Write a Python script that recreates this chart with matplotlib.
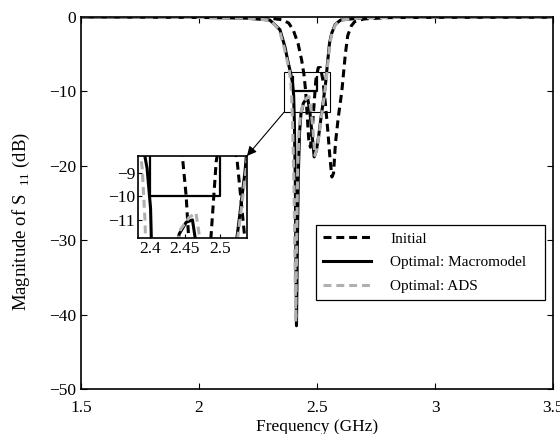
import matplotlib
matplotlib.use("Agg")
import matplotlib.pyplot as plt
from matplotlib.patches import Rectangle, ConnectionPatch

plt.rcParams['font.family'] = ['Liberation Serif', 'DejaVu Serif']
plt.rcParams['mathtext.fontset'] = 'custom'
plt.rcParams['mathtext.rm'] = 'Liberation Serif'

# ---- data ----
f_init = [1.5, 2.0, 2.2, 2.3, 2.35, 2.38, 2.40, 2.42, 2.435, 2.445, 2.452, 2.458, 2.465,
          2.472, 2.48, 2.488, 2.495, 2.505, 2.515, 2.525, 2.535, 2.545, 2.555, 2.563, 2.57,
          2.578, 2.59, 2.605, 2.62, 2.63, 2.645, 2.66, 2.7, 2.8, 3.0, 3.5]
s_init = [0, -0.02, -0.05, -0.15, -0.35, -0.8, -1.8, -3.6, -5.8, -7.8, -10.0, -13.0, -16.5,
          -17.5, -15.0, -11.5, -8.5, -6.8, -6.8, -8.5, -11.5, -15.0, -19.0, -21.5, -21.0,
          -17.0, -13.5, -10.0, -5.0, -2.5, -1.2, -0.6, -0.25, -0.08, -0.02, 0]

f_opt = [1.5, 2.0, 2.2, 2.3, 2.343, 2.364, 2.377, 2.388, 2.396, 2.401, 2.404, 2.408, 2.413,
         2.417, 2.421, 2.426, 2.432, 2.442, 2.452, 2.461, 2.47, 2.479, 2.488, 2.497, 2.507,
         2.517, 2.527, 2.536, 2.545, 2.553, 2.562, 2.577, 2.6, 2.7, 3.0, 3.5]
s_opt = [0, -0.05, -0.15, -0.4, -1.7, -4.0, -6.0, -7.5, -8.8, -10.5, -14.0, -22.0, -41.5,
         -30.0, -21.0, -15.5, -13.0, -11.6, -11.1, -11.0, -12.8, -15.8, -18.8, -18.0, -16.0,
         -13.5, -11.2, -9.0, -6.0, -3.5, -2.2, -1.0, -0.4, -0.08, -0.01, 0]

f_ads = [1.5, 2.0, 2.2, 2.3, 2.34, 2.36, 2.373, 2.383, 2.389, 2.393, 2.397, 2.402, 2.41,
         2.414, 2.418, 2.424, 2.432, 2.444, 2.456, 2.466, 2.475, 2.484, 2.491, 2.499, 2.509,
         2.519, 2.529, 2.538, 2.547, 2.555, 2.564, 2.579, 2.6, 2.7, 3.0, 3.5]
s_ads = [0, -0.05, -0.15, -0.4, -1.7, -4.0, -5.8, -7.3, -8.8, -11.0, -15.0, -22.0, -41.0,
         -30.0, -20.5, -15.0, -12.8, -11.4, -10.9, -10.7, -12.5, -15.5, -18.6, -17.8, -15.8,
         -13.3, -11.0, -8.8, -5.8, -3.4, -2.1, -1.0, -0.4, -0.08, -0.01, 0]

spec_f = [2.4, 2.4, 2.5, 2.5]
spec_s = [-8.0, -10.0, -10.0, -8.0]

xticks = [1.5, 2, 2.5, 3, 3.5]
yticks = [0, -10, -20, -30, -40, -50]
inset_xticks = [2.4, 2.45, 2.5]
inset_yticks = [-9, -10, -11]

fig = plt.figure(figsize=(5.6, 4.34), dpi=100)
ax = fig.add_axes([0.1446, 0.1037, 0.843, 0.857])

dash = (0, (2.6, 1.6))
def draw(a):
    a.plot(f_init, s_init, color='black', lw=2.2, linestyle=dash, label='Initial')
    a.plot(f_opt, s_opt, color='black', lw=2.2, linestyle='-', label='Optimal: Macromodel   ')
    a.plot(f_ads, s_ads, color='#b0b0b0', lw=2.2, linestyle=dash, label='Optimal: ADS')
    a.plot(spec_f, spec_s, color='black', lw=1.6)

draw(ax)
ax.set_xlim(1.5, 3.5)
ax.set_ylim(-50, 0)
ax.set_xticks(xticks)
ax.set_xticklabels(['1.5', '2', '2.5', '3', '3.5'])
ax.set_yticks(yticks)
ax.set_yticklabels(['0', '\u221210', '\u221220', '\u221230', '\u221240', '\u221250'])
ax.tick_params(direction='in', top=True, right=True, labelsize=12.5, length=4, width=0.8)
ax.tick_params(axis='x', pad=8)
for sp in ax.spines.values():
    sp.set_linewidth(1.2)
ax.set_xlabel('Frequency (GHz)', fontsize=12.5, labelpad=2)
ax.set_ylabel('Magnitude of S$_{\\ \\ 11}$ (dB)', fontsize=13.5)
ax.yaxis.set_label_coords(-0.104, 0.45)

leg = ax.legend(loc='lower right', bbox_to_anchor=(0.983, 0.239), borderaxespad=0,
                fontsize=11, frameon=True, fancybox=False, edgecolor='black', framealpha=1,
                handlelength=3.1, handletextpad=1.3, borderpad=0.45, labelspacing=0.66)
leg.get_frame().set_linewidth(0.9)

# zoom box on main axes
ax.add_patch(Rectangle((2.36, -12.8), 0.195, 5.4, fill=False, edgecolor='black', lw=0.8))

ins = fig.add_axes([0.2464, 0.4516, 0.1946, 0.189])
draw(ins)
ins.set_xlim(2.383, 2.539)
ins.set_ylim(-11.77, -8.28)
ins.set_xticks(inset_xticks)
ins.set_xticklabels(['2.4', '2.45', '2.5'])
ins.set_yticks(inset_yticks)
ins.set_yticklabels(['\u22129', '\u221210', '\u221211'])
ins.tick_params(direction='in', labelsize=12.5, length=3, width=0.8, pad=2)
for sp in ins.spines.values():
    sp.set_linewidth(1.2)

con = ConnectionPatch(xyA=(2.36, -12.8), coordsA=ax.transData,
                      xyB=(1.0, 1.0), coordsB=ins.transAxes,
                      arrowstyle='-|>', mutation_scale=14, color='black', lw=0.8)
fig.add_artist(con)

fig.savefig('out.png', dpi=100)
